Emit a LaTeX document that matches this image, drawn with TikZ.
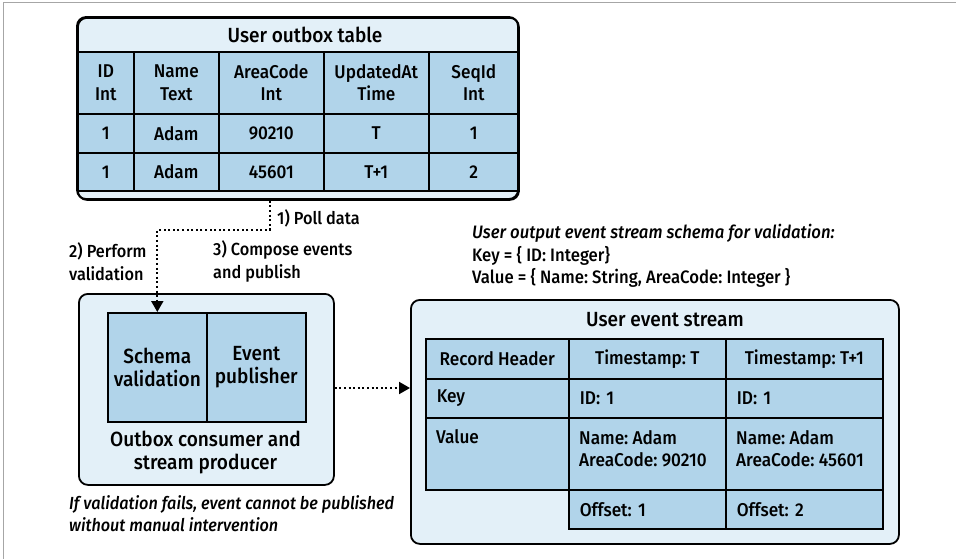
\documentclass[tikz,border=0pt]{standalone}
\usepackage{fontspec}
\setmainfont{Fira Sans}[UprightFont={* Medium}, ItalicFont={* Medium Italic}, FakeStretch=0.93]
\frenchspacing
\usetikzlibrary{arrows.meta}
\definecolor{panel}{HTML}{E3F0F8}
\definecolor{cellblue}{HTML}{B1D4EA}
\tikzset{
  txt/.style={font=\fontsize{18.5}{22.5}\selectfont},
  big/.style={font=\fontsize{20.5}{23}\selectfont},
  panelbox/.style={draw=black, line width=1.8pt, fill=panel, rounded corners=9pt},
  cell/.style={draw=black, line width=1.6pt, fill=cellblue, anchor=north west,
    inner sep=0pt, align=center, txt},
  lcell/.style={cell, align=left, text width=#1, inner xsep=11pt},
  title/.style={big, inner sep=0pt},
  note/.style={txt, align=left, anchor=west, inner sep=0pt},
  steplbl/.style={note, font=\fontsize{17.5}{22.5}\selectfont},
  flow/.style={line width=2pt, dash pattern=on 2pt off 2.6pt,
    -{Triangle[length=11pt,width=12pt]}, shorten >=0pt},
}
\begin{document}
\begin{tikzpicture}[x=1pt,y=-1pt]
\useasboundingbox (0,0) rectangle (956,559);
% frame lines along the top and left edges
\draw[gray!70, line width=1pt] (3,559) -- (3,2.5) -- (956,2.5);

% ---------- outbox table ----------
\node[panelbox, anchor=north west, minimum width=441pt, minimum height=182pt, inner sep=0pt] (tbl) at (77,17) {};
\node[title] (tbltitle) at (305,34.5) {User outbox table};
% header row
\node[cell, minimum width=56pt,  minimum height=62pt] (h1) at (77,51)  {ID\\Int};
\node[cell, minimum width=85pt,  minimum height=62pt] (h2) at (133,51) {Name\\Text};
\node[cell, minimum width=105pt, minimum height=62pt] (h3) at (218,51) {AreaCode\\Int};
\node[cell, minimum width=105pt, minimum height=62pt] (h4) at (323,51) {UpdatedAt\\Time};
\node[cell, minimum width=90pt,  minimum height=62pt] (h5) at (428,51) {SeqId\\Int};
% first row
\node[cell, minimum width=56pt,  minimum height=39pt] (a1) at (77,113)  {1};
\node[cell, minimum width=85pt,  minimum height=39pt] (a2) at (133,113) {Adam};
\node[cell, minimum width=105pt, minimum height=39pt] (a3) at (218,113) {90210};
\node[cell, minimum width=105pt, minimum height=39pt] (a4) at (323,113) {T};
\node[cell, minimum width=90pt,  minimum height=39pt] (a5) at (428,113) {1};
% second row
\node[cell, minimum width=56pt,  minimum height=38pt] (b1) at (77,152)  {1};
\node[cell, minimum width=85pt,  minimum height=38pt] (b2) at (133,152) {Adam};
\node[cell, minimum width=105pt, minimum height=38pt] (b3) at (218,152) {45601};
\node[cell, minimum width=105pt, minimum height=38pt] (b4) at (323,152) {T+1};
\node[cell, minimum width=90pt,  minimum height=38pt] (b5) at (428,152) {2};
% redraw the panel outline over the cell edges
\draw[line width=1.8pt, rounded corners=9pt] (77,17) rectangle (518,199);

% ---------- consumer / producer ----------
\node[panelbox, anchor=north west, minimum width=255pt, minimum height=191pt, inner sep=0pt] (cons) at (78,293) {};
\node[cell, big, minimum width=99pt, minimum height=109pt] (schema) at (107,312) {Schema\\validation};
\node[cell, big, minimum width=99pt, minimum height=109pt] (pub) at (206,312) {Event\\publisher};
\node[big, align=center, inner sep=0pt] (conslbl) at (205.5,452) {Outbox consumer and\\stream producer};
\node[steplbl, font=\fontsize{17.5}{22.5}\selectfont\itshape] (fail) at (69,513.5)
  {If validation fails, event cannot be published\\without manual intervention};

% ---------- step labels ----------
\node[steplbl] (poll) at (277,218) {1) Poll data};
\node[steplbl] (valid) at (69,261.5) {2) Perform\\validation};
\node[steplbl] (compose) at (213,261.5) {3) Compose events\\and publish};

% ---------- schema description ----------
\node[note, font=\fontsize{18}{22.5}\selectfont] (schemadef) at (472,256)
  {\textit{User output event stream schema for validation:}\\Key = \{ ID: Integer\}\\Value = \{ Name: String, AreaCode: Integer \}};

% ---------- event stream ----------
\node[panelbox, anchor=north west, minimum width=488pt, minimum height=244pt, inner sep=0pt] (stream) at (410,299) {};
\node[title] (streamtitle) at (665,320) {User event stream};
\node[cell, minimum width=143pt, minimum height=40pt] (r1) at (425,338) {Record Header};
\node[cell, minimum width=157pt, minimum height=40pt] (t1) at (568,338) {Timestamp: T};
\node[cell, minimum width=157pt, minimum height=40pt] (t2) at (725,338) {Timestamp: T+1};
\node[lcell=121pt, minimum width=143pt, minimum height=39pt] (kh) at (425,378) {Key};
\node[lcell=135pt, minimum width=157pt, minimum height=39pt] (k1) at (568,378) {ID: 1};
\node[lcell=135pt, minimum width=157pt, minimum height=39pt] (k2) at (725,378) {ID: 1};
\node[cell, minimum width=143pt, minimum height=72pt] (vh) at (425,417) {};
\node[cell, minimum width=157pt, minimum height=72pt] (v1) at (568,417) {};
\node[cell, minimum width=157pt, minimum height=72pt] (v2) at (725,417) {};
\node[note] (vhtxt) at (436,437) {Value};
\node[note] (v1txt) at (579,448.5) {Name: Adam\\AreaCode: 90210};
\node[note] (v2txt) at (736,448.5) {Name: Adam\\AreaCode: 45601};
\node[lcell=135pt, minimum width=157pt, minimum height=39pt] (o1) at (568,489) {Offset: 1};
\node[lcell=135pt, minimum width=157pt, minimum height=39pt] (o2) at (725,489) {Offset: 2};

% ---------- connectors ----------
\draw[flow] (tbl.south -| 270,0) -- ++(0,29) -| (schema.north);
\draw[flow] (cons.east |- 0,388) -- (stream.west |- 0,388);
\end{tikzpicture}
\end{document}
